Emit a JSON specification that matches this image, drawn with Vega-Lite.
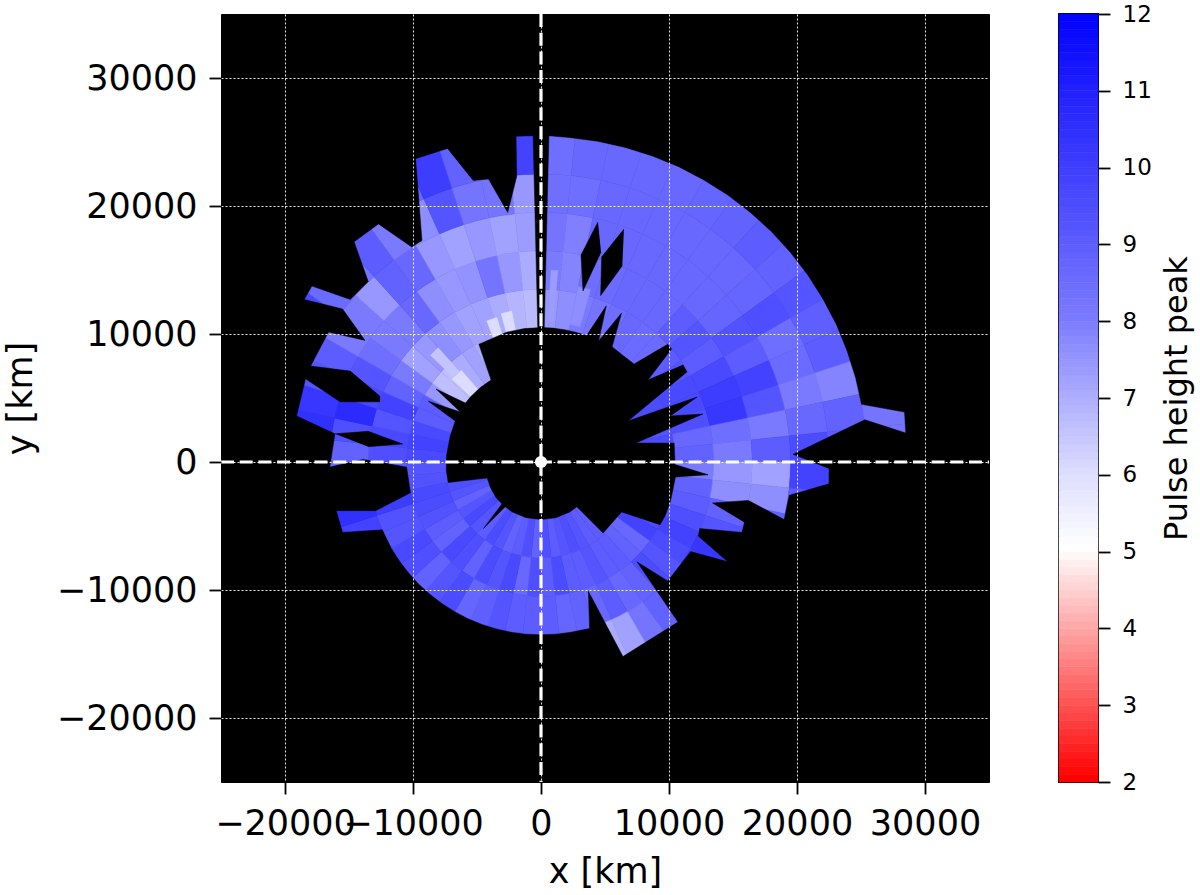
{"$schema":"https://vega.github.io/schema/vega-lite/v6.json","padding":{"left":2,"top":2,"right":2,"bottom":2},"background":"white","spacing":65,
"config":{"font":"DejaVu Sans","view":{"stroke":null}},
"datasets":{
"mask":[
{"g":1,"n":1,"x":0,"y":10500},{"g":1,"n":2,"x":910,"y":10460},{"g":1,"n":3,"x":1820,"y":10340},{"g":1,"n":4,"x":2720,"y":10140},{"g":1,"n":5,"x":3560,"y":9880},{"g":1,"n":6,"x":5100,"y":12200},{"g":1,"n":7,"x":4500,"y":9450},{"g":1,"n":8,"x":6300,"y":11650},{"g":1,"n":9,"x":5550,"y":9000},{"g":1,"n":10,"x":6430,"y":8300},{"g":1,"n":11,"x":7270,"y":7650},{"g":1,"n":12,"x":9900,"y":9200},{"g":1,"n":13,"x":10200,"y":8830},{"g":1,"n":14,"x":8350,"y":6400},{"g":1,"n":15,"x":11100,"y":7580},{"g":1,"n":16,"x":11400,"y":7030},{"g":1,"n":17,"x":6800,"y":3200},{"g":1,"n":18,"x":12200,"y":5080},{"g":1,"n":19,"x":10100,"y":3600},{"g":1,"n":20,"x":12650,"y":3750},{"g":1,"n":21,"x":7400,"y":1480},{"g":1,"n":22,"x":10400,"y":1480},{"g":1,"n":23,"x":10470,"y":0},{"g":1,"n":24,"x":10470,"y":-200},{"g":1,"n":25,"x":13050,"y":-1000},{"g":1,"n":26,"x":10500,"y":-1170},{"g":1,"n":27,"x":10300,"y":-2200},{"g":1,"n":28,"x":10100,"y":-3100},{"g":1,"n":29,"x":9700,"y":-4200},{"g":1,"n":30,"x":9300,"y":-4900},{"g":1,"n":31,"x":6300,"y":-3900},{"g":1,"n":32,"x":4850,"y":-5550},{"g":1,"n":33,"x":2800,"y":-3500},{"g":1,"n":34,"x":2250,"y":-3900},{"g":1,"n":35,"x":1160,"y":-4350},{"g":1,"n":36,"x":0,"y":-4500},{"g":1,"n":37,"x":-1160,"y":-4350},{"g":1,"n":38,"x":-2250,"y":-3900},{"g":1,"n":39,"x":-2800,"y":-3500},{"g":1,"n":40,"x":-4500,"y":-5200},{"g":1,"n":41,"x":-3050,"y":-3280},{"g":1,"n":42,"x":-3500,"y":-2800},{"g":1,"n":43,"x":-3950,"y":-2000},{"g":1,"n":44,"x":-4200,"y":-1250},{"g":1,"n":45,"x":-7250,"y":-1600},{"g":1,"n":46,"x":-7400,"y":-650},{"g":1,"n":47,"x":-7380,"y":520},{"g":1,"n":48,"x":-7100,"y":2000},{"g":1,"n":49,"x":-6700,"y":3200},{"g":1,"n":50,"x":-8800,"y":4750},{"g":1,"n":51,"x":-6300,"y":3900},{"g":1,"n":52,"x":-8200,"y":5700},{"g":1,"n":53,"x":-5900,"y":4600},{"g":1,"n":54,"x":-5500,"y":5100},{"g":1,"n":55,"x":-4700,"y":5850},{"g":1,"n":56,"x":-3900,"y":6400},{"g":1,"n":57,"x":-4850,"y":9200},{"g":1,"n":58,"x":-2650,"y":10150},{"g":1,"n":59,"x":-1300,"y":10420},{"g":1,"n":60,"x":0,"y":10500},
{"g":2,"n":1,"x":620,"y":25490},{"g":2,"n":1.5,"x":2220,"y":25350},{"g":2,"n":2,"x":4420,"y":25060},{"g":2,"n":2.5,"x":6590,"y":24580},{"g":2,"n":3,"x":8700,"y":23910},{"g":2,"n":3.5,"x":10760,"y":23070},{"g":2,"n":4,"x":12720,"y":22040},{"g":2,"n":4.5,"x":14600,"y":20850},{"g":2,"n":5,"x":16360,"y":19500},{"g":2,"n":5.5,"x":18000,"y":18000},{"g":2,"n":6,"x":19500,"y":16360},{"g":2,"n":6.5,"x":20850,"y":14600},{"g":2,"n":7,"x":22040,"y":12720},{"g":2,"n":7.5,"x":23070,"y":10760},{"g":2,"n":8,"x":23910,"y":8700},{"g":2,"n":8.5,"x":24580,"y":6590},{"g":2,"n":9,"x":25040,"y":4510},{"g":2,"n":10,"x":28400,"y":3900},{"g":2,"n":11,"x":28500,"y":2260},{"g":2,"n":12,"x":25300,"y":3300},{"g":2,"n":13,"x":19700,"y":600},{"g":2,"n":14,"x":22500,"y":-500},{"g":2,"n":15,"x":22500,"y":-1700},{"g":2,"n":16,"x":19400,"y":-2600},{"g":2,"n":17,"x":19000,"y":-4500},{"g":2,"n":18,"x":16200,"y":-3000},{"g":2,"n":19,"x":13400,"y":-3200},{"g":2,"n":20,"x":15900,"y":-4700},{"g":2,"n":21,"x":15700,"y":-5500},{"g":2,"n":22,"x":12400,"y":-5200},{"g":2,"n":23,"x":12300,"y":-5800},{"g":2,"n":24,"x":14600,"y":-7800},{"g":2,"n":25,"x":11700,"y":-7000},{"g":2,"n":26,"x":9900,"y":-9300},{"g":2,"n":27,"x":7500,"y":-7800},{"g":2,"n":28,"x":10700,"y":-12500},{"g":2,"n":29,"x":6400,"y":-15200},{"g":2,"n":30,"x":3700,"y":-10100},{"g":2,"n":31,"x":3800,"y":-13000},{"g":2,"n":31.5,"x":2340,"y":-13300},{"g":2,"n":32,"x":1180,"y":-13450},{"g":2,"n":33,"x":0,"y":-13500},{"g":2,"n":33.5,"x":-1180,"y":-13450},{"g":2,"n":34,"x":-2340,"y":-13300},{"g":2,"n":34.5,"x":-3490,"y":-13040},{"g":2,"n":35,"x":-4620,"y":-12690},{"g":2,"n":35.5,"x":-5710,"y":-12240},{"g":2,"n":36,"x":-6750,"y":-11690},{"g":2,"n":36.5,"x":-7740,"y":-11060},{"g":2,"n":37,"x":-8680,"y":-10340},{"g":2,"n":37.5,"x":-9550,"y":-9550},{"g":2,"n":38,"x":-10340,"y":-8680},{"g":2,"n":38.5,"x":-11060,"y":-7740},{"g":2,"n":39,"x":-11690,"y":-6750},{"g":2,"n":40,"x":-12400,"y":-5300},{"g":2,"n":41,"x":-15500,"y":-5500},{"g":2,"n":42,"x":-16000,"y":-3800},{"g":2,"n":43,"x":-12900,"y":-3800},{"g":2,"n":44,"x":-10200,"y":-2400},{"g":2,"n":45,"x":-10500,"y":-400},{"g":2,"n":46,"x":-13900,"y":200},{"g":2,"n":47,"x":-16500,"y":-400},{"g":2,"n":48,"x":-16100,"y":2200},{"g":2,"n":49,"x":-19100,"y":3600},{"g":2,"n":50,"x":-18400,"y":6500},{"g":2,"n":51,"x":-15700,"y":4700},{"g":2,"n":52,"x":-12600,"y":4700},{"g":2,"n":53,"x":-12600,"y":5150},{"g":2,"n":54,"x":-14900,"y":7100},{"g":2,"n":55,"x":-18000,"y":7500},{"g":2,"n":56,"x":-16600,"y":10150},{"g":2,"n":57,"x":-13750,"y":9500},{"g":2,"n":58,"x":-15500,"y":11950},{"g":2,"n":59,"x":-18500,"y":12700},{"g":2,"n":60,"x":-17900,"y":13750},{"g":2,"n":61,"x":-14900,"y":12700},{"g":2,"n":62,"x":-13500,"y":14100},{"g":2,"n":63,"x":-14600,"y":17200},{"g":2,"n":64,"x":-12700,"y":18600},{"g":2,"n":65,"x":-10100,"y":16800},{"g":2,"n":66,"x":-9300,"y":17300},{"g":2,"n":67,"x":-9800,"y":23700},{"g":2,"n":68,"x":-7300,"y":24500},{"g":2,"n":69,"x":-5300,"y":22000},{"g":2,"n":70,"x":-4100,"y":22100},{"g":2,"n":71,"x":-2600,"y":19500},{"g":2,"n":72,"x":-1900,"y":22300},{"g":2,"n":73,"x":-1950,"y":25450},{"g":2,"n":74,"x":-600,"y":25490},{"g":2,"n":75,"x":-600,"y":34900},{"g":2,"n":76,"x":-24900,"y":34900},{"g":2,"n":77,"x":-24900,"y":-24900},{"g":2,"n":78,"x":34900,"y":-24900},{"g":2,"n":79,"x":34900,"y":34900},{"g":2,"n":80,"x":620,"y":34900},{"g":2,"n":81,"x":620,"y":25490},
{"g":3,"n":1,"x":-250,"y":10400},{"g":3,"n":2,"x":-640,"y":26500},{"g":3,"n":3,"x":640,"y":26500},{"g":3,"n":4,"x":250,"y":10400},
{"g":4,"n":1,"x":-16100,"y":2200},{"g":4,"n":2,"x":-13500,"y":2400},{"g":4,"n":3,"x":-10800,"y":1400},{"g":4,"n":4,"x":-13500,"y":1200},
{"g":5,"n":1,"x":4450,"y":18750},{"g":5,"n":2,"x":3125,"y":16170},{"g":5,"n":3,"x":3280,"y":13360},{"g":5,"n":4,"x":4690,"y":16400},
{"g":6,"n":1,"x":6480,"y":18200},{"g":6,"n":2,"x":4740,"y":16020},{"g":6,"n":3,"x":4660,"y":13000},{"g":6,"n":4,"x":6350,"y":15340}
],
"tiles":[
{"t":0,"u":6,"i":10000,"o":13500,"v":7.4},{"t":0,"u":6,"i":13500,"o":16500,"v":8},{"t":0,"u":6,"i":16500,"o":19500,"v":8.2},{"t":0,"u":6,"i":19500,"o":22500,"v":8.4},{"t":0,"u":6,"i":22500,"o":25700,"v":8.4},
{"t":6,"u":12,"i":10000,"o":13500,"v":7.6},{"t":6,"u":12,"i":13500,"o":16500,"v":7.8},{"t":6,"u":12,"i":16500,"o":19500,"v":7.9},{"t":6,"u":12,"i":19500,"o":22500,"v":8.4},{"t":6,"u":12,"i":22500,"o":25700,"v":8.6},
{"t":12,"u":18,"i":10000,"o":13500,"v":8},{"t":12,"u":18,"i":13500,"o":16500,"v":8.4},{"t":12,"u":18,"i":16500,"o":19500,"v":8.6},{"t":12,"u":18,"i":19500,"o":22500,"v":8.6},{"t":12,"u":18,"i":22500,"o":25700,"v":8.6},
{"t":18,"u":24,"i":10000,"o":13500,"v":8.2},{"t":18,"u":24,"i":13500,"o":16500,"v":8.5},{"t":18,"u":24,"i":16500,"o":19500,"v":8.6},{"t":18,"u":24,"i":19500,"o":22500,"v":8.6},{"t":18,"u":24,"i":22500,"o":25700,"v":8.6},
{"t":24,"u":30,"i":10000,"o":13500,"v":8.4},{"t":24,"u":30,"i":13500,"o":16500,"v":8.6},{"t":24,"u":30,"i":16500,"o":19500,"v":8.6},{"t":24,"u":30,"i":19500,"o":22500,"v":8.6},{"t":24,"u":30,"i":22500,"o":25700,"v":8.6},
{"t":30,"u":36,"i":10000,"o":13500,"v":8.6},{"t":30,"u":36,"i":13500,"o":16500,"v":8.6},{"t":30,"u":36,"i":16500,"o":19500,"v":8.6},{"t":30,"u":36,"i":19500,"o":22500,"v":8.6},{"t":30,"u":36,"i":22500,"o":25700,"v":8.7},
{"t":36,"u":42,"i":10000,"o":13500,"v":8.5},{"t":36,"u":42,"i":13500,"o":16500,"v":8.6},{"t":36,"u":42,"i":16500,"o":19500,"v":8.6},{"t":36,"u":42,"i":19500,"o":22500,"v":8.6},{"t":36,"u":42,"i":22500,"o":25700,"v":8.8},
{"t":42,"u":48,"i":10000,"o":13500,"v":8.5},{"t":42,"u":48,"i":13500,"o":16500,"v":9},{"t":42,"u":48,"i":16500,"o":19500,"v":8.6},{"t":42,"u":48,"i":19500,"o":22500,"v":8.6},{"t":42,"u":48,"i":22500,"o":25700,"v":9},
{"t":48,"u":54,"i":10000,"o":13500,"v":9},{"t":48,"u":54,"i":13500,"o":16500,"v":9.2},{"t":48,"u":54,"i":16500,"o":19500,"v":8.7},{"t":48,"u":54,"i":19500,"o":22500,"v":8.7},{"t":48,"u":54,"i":22500,"o":25700,"v":8.8},
{"t":54,"u":60,"i":7000,"o":13500,"v":9.2},{"t":54,"u":60,"i":13500,"o":16500,"v":9},{"t":54,"u":60,"i":16500,"o":19500,"v":9.3},{"t":54,"u":60,"i":19500,"o":22500,"v":9.4},{"t":54,"u":60,"i":22500,"o":25700,"v":9.2},
{"t":60,"u":66,"i":7000,"o":10500,"v":9.5},{"t":60,"u":66,"i":10500,"o":13500,"v":9.6},{"t":60,"u":66,"i":13500,"o":16500,"v":9.6},{"t":60,"u":66,"i":16500,"o":19500,"v":9},{"t":60,"u":66,"i":19500,"o":22500,"v":8.4},{"t":60,"u":66,"i":22500,"o":25700,"v":8.9},
{"t":66,"u":72,"i":7000,"o":10500,"v":9.4},{"t":66,"u":72,"i":10500,"o":13500,"v":9.6},{"t":66,"u":72,"i":13500,"o":16500,"v":10},{"t":66,"u":72,"i":16500,"o":19500,"v":9.8},{"t":66,"u":72,"i":19500,"o":22500,"v":8.5},{"t":66,"u":72,"i":22500,"o":25700,"v":9},
{"t":72,"u":78,"i":7000,"o":10500,"v":9.2},{"t":72,"u":78,"i":10500,"o":13500,"v":9.4},{"t":72,"u":78,"i":13500,"o":16500,"v":10.2},{"t":72,"u":78,"i":16500,"o":19500,"v":9.2},{"t":72,"u":78,"i":19500,"o":22500,"v":8},{"t":72,"u":78,"i":22500,"o":25700,"v":7.8},
{"t":78,"u":84,"i":7000,"o":10500,"v":9.5},{"t":78,"u":84,"i":10500,"o":13500,"v":8.6},{"t":78,"u":84,"i":13500,"o":16500,"v":8.4},{"t":78,"u":84,"i":16500,"o":19500,"v":8},{"t":78,"u":84,"i":19500,"o":22500,"v":8.6},{"t":78,"u":84,"i":22500,"o":25700,"v":8.8},{"t":78,"u":84,"i":25500,"o":29000,"v":8.2},
{"t":84,"u":90,"i":10000,"o":13500,"v":8.8},{"t":84,"u":90,"i":13500,"o":16500,"v":8},{"t":84,"u":90,"i":16500,"o":19500,"v":9},{"t":84,"u":90,"i":19500,"o":22500,"v":9.5},{"t":84,"u":90,"i":22500,"o":25700,"v":9},{"t":84,"u":90,"i":25500,"o":29000,"v":8.2},
{"t":90,"u":96,"i":10000,"o":13500,"v":8},{"t":90,"u":96,"i":13500,"o":16500,"v":7.4},{"t":90,"u":96,"i":16500,"o":19500,"v":7.2},{"t":90,"u":96,"i":19500,"o":22800,"v":9.8},
{"t":96,"u":102,"i":10000,"o":13500,"v":8.8},{"t":96,"u":102,"i":13500,"o":16500,"v":7.6},{"t":96,"u":102,"i":16500,"o":19500,"v":7.6},{"t":96,"u":102,"i":19500,"o":22500,"v":9},
{"t":102,"u":108,"i":10000,"o":13500,"v":9},{"t":102,"u":108,"i":13500,"o":16500,"v":8.8},{"t":102,"u":108,"i":16500,"o":19800,"v":8.8},
{"t":108,"u":114,"i":10000,"o":13500,"v":9.4},{"t":108,"u":114,"i":13500,"o":16900,"v":9.2},
{"t":114,"u":120,"i":7000,"o":10500,"v":9.5},{"t":114,"u":120,"i":10500,"o":13500,"v":9.8},{"t":114,"u":120,"i":13500,"o":16900,"v":10.2},
{"t":120,"u":126,"i":7000,"o":10500,"v":9.8},{"t":120,"u":126,"i":10500,"o":13500,"v":9.5},{"t":120,"u":126,"i":13500,"o":16500,"v":10},
{"t":126,"u":132,"i":7000,"o":10500,"v":8.6},{"t":126,"u":132,"i":10500,"o":13800,"v":9.2},
{"t":132,"u":138,"i":7000,"o":10500,"v":8.8},{"t":132,"u":138,"i":10500,"o":13800,"v":9.5},
{"t":138,"u":144,"i":4300,"o":7500,"v":9},{"t":138,"u":144,"i":7500,"o":10500,"v":9},{"t":138,"u":144,"i":10500,"o":13500,"v":8.8},{"t":138,"u":144,"i":13500,"o":16700,"v":8.8},
{"t":144,"u":150,"i":4300,"o":7500,"v":9},{"t":144,"u":150,"i":7500,"o":10500,"v":9},{"t":144,"u":150,"i":10500,"o":13500,"v":8.6},{"t":144,"u":150,"i":13500,"o":16700,"v":8.2},
{"t":150,"u":156,"i":4300,"o":7500,"v":9.2},{"t":150,"u":156,"i":7500,"o":10500,"v":9.2},{"t":150,"u":156,"i":10500,"o":13500,"v":9},{"t":150,"u":156,"i":13500,"o":16700,"v":7.2},
{"t":156,"u":162,"i":4300,"o":7500,"v":9.4},{"t":156,"u":162,"i":7500,"o":10500,"v":9},{"t":156,"u":162,"i":10500,"o":13500,"v":8.6},{"t":156,"u":162,"i":13500,"o":16700,"v":7},
{"t":162,"u":168,"i":4300,"o":7500,"v":9.2},{"t":162,"u":168,"i":7500,"o":10500,"v":9},{"t":162,"u":168,"i":10500,"o":13800,"v":8.8},
{"t":168,"u":174,"i":4300,"o":7500,"v":9},{"t":168,"u":174,"i":7500,"o":10500,"v":9.5},{"t":168,"u":174,"i":10500,"o":13800,"v":8.7},
{"t":174,"u":180,"i":4300,"o":7500,"v":9.4},{"t":174,"u":180,"i":7500,"o":10500,"v":9},{"t":174,"u":180,"i":10500,"o":13800,"v":9},
{"t":180,"u":186,"i":4300,"o":7500,"v":8.8},{"t":180,"u":186,"i":7500,"o":10500,"v":9.4},{"t":180,"u":186,"i":10500,"o":13800,"v":9},
{"t":186,"u":192,"i":4300,"o":7500,"v":9.4},{"t":186,"u":192,"i":7500,"o":10500,"v":8.6},{"t":186,"u":192,"i":10500,"o":13800,"v":9},
{"t":192,"u":198,"i":4300,"o":7500,"v":9},{"t":192,"u":198,"i":7500,"o":10500,"v":9.6},{"t":192,"u":198,"i":10500,"o":13800,"v":9.2},
{"t":198,"u":204,"i":4300,"o":7500,"v":8.8},{"t":198,"u":204,"i":7500,"o":10500,"v":9.2},{"t":198,"u":204,"i":10500,"o":13800,"v":8.9},
{"t":204,"u":210,"i":4300,"o":7500,"v":9.2},{"t":204,"u":210,"i":7500,"o":10500,"v":9.5},{"t":204,"u":210,"i":10500,"o":13800,"v":8.7},
{"t":210,"u":216,"i":4300,"o":7500,"v":9.5},{"t":210,"u":216,"i":7500,"o":10500,"v":8.8},{"t":210,"u":216,"i":10500,"o":13800,"v":9.5},
{"t":216,"u":222,"i":4300,"o":7500,"v":9},{"t":216,"u":222,"i":7500,"o":10500,"v":9.4},{"t":216,"u":222,"i":10500,"o":13800,"v":9.2},
{"t":222,"u":228,"i":4300,"o":7500,"v":9.2},{"t":222,"u":228,"i":7500,"o":10500,"v":9.6},{"t":222,"u":228,"i":10500,"o":13800,"v":8.8},
{"t":228,"u":234,"i":4300,"o":7500,"v":9.6},{"t":228,"u":234,"i":7500,"o":10500,"v":8.8},{"t":228,"u":234,"i":10500,"o":13800,"v":9.4},
{"t":234,"u":240,"i":4300,"o":7500,"v":9.2},{"t":234,"u":240,"i":7500,"o":10500,"v":9},{"t":234,"u":240,"i":10500,"o":13800,"v":9.6},
{"t":240,"u":246,"i":4300,"o":7500,"v":8.8},{"t":240,"u":246,"i":7500,"o":10500,"v":9.3},{"t":240,"u":246,"i":10500,"o":13800,"v":9.2},
{"t":246,"u":252,"i":4300,"o":7500,"v":9.2},{"t":246,"u":252,"i":7500,"o":10500,"v":9.5},{"t":246,"u":252,"i":10500,"o":13500,"v":9.3},{"t":246,"u":252,"i":13500,"o":16800,"v":9.8},
{"t":252,"u":258,"i":4300,"o":7500,"v":9.4},{"t":252,"u":258,"i":7500,"o":10500,"v":9.6},{"t":252,"u":258,"i":10500,"o":13500,"v":10},{"t":252,"u":258,"i":13500,"o":16800,"v":10.4},
{"t":258,"u":264,"i":7000,"o":10800,"v":9.3},
{"t":264,"u":270,"i":7000,"o":10500,"v":9.2},{"t":264,"u":270,"i":10500,"o":13500,"v":9},{"t":264,"u":270,"i":13500,"o":16700,"v":8.6},
{"t":270,"u":276,"i":7000,"o":10500,"v":9.6},{"t":270,"u":276,"i":10500,"o":13500,"v":9.4},{"t":270,"u":276,"i":13500,"o":16700,"v":8.8},
{"t":276,"u":282,"i":7000,"o":10500,"v":9.8},{"t":276,"u":282,"i":10500,"o":13500,"v":9.6},{"t":276,"u":282,"i":13500,"o":16500,"v":9.4},{"t":276,"u":282,"i":16500,"o":19800,"v":10.4},
{"t":282,"u":288,"i":7000,"o":10500,"v":9.6},{"t":282,"u":288,"i":10500,"o":13500,"v":9.2},{"t":282,"u":288,"i":13500,"o":16500,"v":10.6},{"t":282,"u":288,"i":16500,"o":19800,"v":10.2},
{"t":288,"u":294,"i":7000,"o":10500,"v":9},{"t":288,"u":294,"i":10500,"o":13500,"v":9.8},{"t":288,"u":294,"i":13500,"o":16500,"v":9.6},{"t":288,"u":294,"i":16500,"o":19800,"v":9.2},
{"t":294,"u":300,"i":7000,"o":10500,"v":9},{"t":294,"u":300,"i":10500,"o":13500,"v":8.8},{"t":294,"u":300,"i":13500,"o":16500,"v":9.2},{"t":294,"u":300,"i":16500,"o":19800,"v":9},
{"t":300,"u":306,"i":7000,"o":10500,"v":7.4},{"t":300,"u":306,"i":10500,"o":13500,"v":8},{"t":300,"u":306,"i":13500,"o":16500,"v":8.4},{"t":300,"u":306,"i":16500,"o":19500,"v":8},{"t":300,"u":306,"i":19500,"o":22800,"v":9.6},
{"t":306,"u":312,"i":7000,"o":10500,"v":6.6},{"t":306,"u":312,"i":10500,"o":13500,"v":7.2},{"t":306,"u":312,"i":13500,"o":16500,"v":8},{"t":306,"u":312,"i":16500,"o":19500,"v":8},{"t":306,"u":312,"i":19500,"o":22800,"v":8.5},
{"t":312,"u":318,"i":7000,"o":10500,"v":6.6},{"t":312,"u":318,"i":10500,"o":13500,"v":7.4},{"t":312,"u":318,"i":13500,"o":16500,"v":8},{"t":312,"u":318,"i":16500,"o":19500,"v":7.4},{"t":312,"u":318,"i":19500,"o":22800,"v":8.2},
{"t":318,"u":324,"i":7000,"o":10500,"v":7},{"t":318,"u":324,"i":10500,"o":13500,"v":7.6},{"t":318,"u":324,"i":13500,"o":16500,"v":8.6},{"t":318,"u":324,"i":16500,"o":19500,"v":8.8},{"t":318,"u":324,"i":19500,"o":22800,"v":9},
{"t":324,"u":330,"i":7000,"o":10500,"v":7.2},{"t":324,"u":330,"i":10500,"o":13500,"v":7.4},{"t":324,"u":330,"i":13500,"o":16500,"v":7.6},{"t":324,"u":330,"i":16500,"o":19500,"v":8.6},{"t":324,"u":330,"i":19500,"o":22800,"v":8},
{"t":330,"u":336,"i":7000,"o":10500,"v":7},{"t":330,"u":336,"i":10500,"o":13500,"v":7.2},{"t":330,"u":336,"i":13500,"o":16500,"v":7.4},{"t":330,"u":336,"i":16500,"o":19500,"v":7.4},{"t":330,"u":336,"i":19500,"o":22500,"v":7.6},{"t":330,"u":336,"i":22500,"o":25800,"v":8.6},
{"t":336,"u":342,"i":10000,"o":13500,"v":7.2},{"t":336,"u":342,"i":13500,"o":16500,"v":7.5},{"t":336,"u":342,"i":16500,"o":19500,"v":7.2},{"t":336,"u":342,"i":19500,"o":22500,"v":9.2},{"t":336,"u":342,"i":22500,"o":25800,"v":10},
{"t":342,"u":348,"i":10000,"o":13500,"v":7},{"t":342,"u":348,"i":13500,"o":16500,"v":8.2},{"t":342,"u":348,"i":16500,"o":19500,"v":7.4},{"t":342,"u":348,"i":19500,"o":22500,"v":8.2},{"t":342,"u":348,"i":22500,"o":25800,"v":8.8},
{"t":348,"u":354,"i":10000,"o":13500,"v":6.8},{"t":348,"u":354,"i":13500,"o":16500,"v":7.4},{"t":348,"u":354,"i":16500,"o":19500,"v":7.2},{"t":348,"u":354,"i":19500,"o":22800,"v":8.2},
{"t":354,"u":360,"i":10000,"o":13500,"v":6.7},{"t":354,"u":360,"i":13500,"o":16500,"v":7},{"t":354,"u":360,"i":16500,"o":19500,"v":7.3},{"t":354,"u":360,"i":19500,"o":22500,"v":7.4},{"t":354,"u":360,"i":22500,"o":25800,"v":9.8},
{"t":313,"u":319,"i":7000,"o":9500,"v":6},{"t":314,"u":318,"i":9500,"o":12000,"v":6.5},{"t":339,"u":343,"i":10000,"o":11800,"v":6},{"t":345,"u":349,"i":10000,"o":12000,"v":6},{"t":3,"u":5,"i":11000,"o":15000,"v":7.3},{"t":12,"u":16,"i":11000,"o":14000,"v":7.6}
],
"bar":[{"l":2.0,"h":2.1},{"l":2.1,"h":2.2},{"l":2.2,"h":2.3},{"l":2.3,"h":2.4},{"l":2.4,"h":2.5},{"l":2.5,"h":2.6},{"l":2.6,"h":2.7},{"l":2.7,"h":2.8},{"l":2.8,"h":2.9},{"l":2.9,"h":3.0},{"l":3.0,"h":3.1},{"l":3.1,"h":3.2},{"l":3.2,"h":3.3},{"l":3.3,"h":3.4},{"l":3.4,"h":3.5},{"l":3.5,"h":3.6},{"l":3.6,"h":3.7},{"l":3.7,"h":3.8},{"l":3.8,"h":3.9},{"l":3.9,"h":4.0},{"l":4.0,"h":4.1},{"l":4.1,"h":4.2},{"l":4.2,"h":4.3},{"l":4.3,"h":4.4},{"l":4.4,"h":4.5},{"l":4.5,"h":4.6},{"l":4.6,"h":4.7},{"l":4.7,"h":4.8},{"l":4.8,"h":4.9},{"l":4.9,"h":5.0},{"l":5.0,"h":5.1},{"l":5.1,"h":5.2},{"l":5.2,"h":5.3},{"l":5.3,"h":5.4},{"l":5.4,"h":5.5},{"l":5.5,"h":5.6},{"l":5.6,"h":5.7},{"l":5.7,"h":5.8},{"l":5.8,"h":5.9},{"l":5.9,"h":6.0},{"l":6.0,"h":6.1},{"l":6.1,"h":6.2},{"l":6.2,"h":6.3},{"l":6.3,"h":6.4},{"l":6.4,"h":6.5},{"l":6.5,"h":6.6},{"l":6.6,"h":6.7},{"l":6.7,"h":6.8},{"l":6.8,"h":6.9},{"l":6.9,"h":7.0},{"l":7.0,"h":7.1},{"l":7.1,"h":7.2},{"l":7.2,"h":7.3},{"l":7.3,"h":7.4},{"l":7.4,"h":7.5},{"l":7.5,"h":7.6},{"l":7.6,"h":7.7},{"l":7.7,"h":7.8},{"l":7.8,"h":7.9},{"l":7.9,"h":8.0},{"l":8.0,"h":8.1},{"l":8.1,"h":8.2},{"l":8.2,"h":8.3},{"l":8.3,"h":8.4},{"l":8.4,"h":8.5},{"l":8.5,"h":8.6},{"l":8.6,"h":8.7},{"l":8.7,"h":8.8},{"l":8.8,"h":8.9},{"l":8.9,"h":9.0},{"l":9.0,"h":9.1},{"l":9.1,"h":9.2},{"l":9.2,"h":9.3},{"l":9.3,"h":9.4},{"l":9.4,"h":9.5},{"l":9.5,"h":9.6},{"l":9.6,"h":9.7},{"l":9.7,"h":9.8},{"l":9.8,"h":9.9},{"l":9.9,"h":10.0},{"l":10.0,"h":10.1},{"l":10.1,"h":10.2},{"l":10.2,"h":10.3},{"l":10.3,"h":10.4},{"l":10.4,"h":10.5},{"l":10.5,"h":10.6},{"l":10.6,"h":10.7},{"l":10.7,"h":10.8},{"l":10.8,"h":10.9},{"l":10.9,"h":11.0},{"l":11.0,"h":11.1},{"l":11.1,"h":11.2},{"l":11.2,"h":11.3},{"l":11.3,"h":11.4},{"l":11.4,"h":11.5},{"l":11.5,"h":11.6},{"l":11.6,"h":11.7},{"l":11.7,"h":11.8},{"l":11.8,"h":11.9},{"l":11.9,"h":12.0}]
},
"hconcat":[
{"width":768,"height":768,"view":{"fill":"black","stroke":"black"},
"layer":[
{"data":{"name":"tiles"},
"mark":{"type":"arc","clip":true,"strokeWidth":0.6},
"encoding":{
"x":{"datum":0,"type":"quantitative","scale":{"domain":[-25000,35000],"nice":false},"axis":{"title":"x [km]","values":[-20000,-10000,0,10000,20000,30000],"format":"d","grid":true,"gridColor":"white","gridDash":[2,2],"gridWidth":1,"gridOpacity":0.9,"tickSize":12,"tickWidth":1.8,"tickColor":"black","domain":false,"labelFontSize":35,"titleFontSize":35,"labelColor":"black","titleColor":"black","titleFontWeight":"normal","labelOverlap":false,"labelFlush":false,"labelPadding":12,"titlePadding":13,"zindex":1}},
"y":{"datum":0,"type":"quantitative","scale":{"domain":[-25000,35000],"nice":false},"axis":{"title":"y [km]","values":[-20000,-10000,0,10000,20000,30000],"format":"d","grid":true,"gridColor":"white","gridDash":[2,2],"gridWidth":1,"gridOpacity":0.9,"tickSize":12,"tickWidth":1.8,"tickColor":"black","domain":false,"labelFontSize":35,"titleFontSize":35,"labelColor":"black","titleColor":"black","titleFontWeight":"normal","labelOverlap":false,"labelPadding":12,"titlePadding":18,"zindex":1}},
"theta":{"field":"t","type":"quantitative","stack":null,"scale":{"domain":[0,360],"range":[0,6.283185]}},"theta2":{"field":"u"},
"radius":{"field":"i","type":"quantitative","scale":{"type":"linear","domain":[0,30000],"range":[0,384]}},"radius2":{"field":"o"},
"fill":{"field":"v","type":"quantitative","legend":null,"scale":{"domain":[2,5,6,8,12],"range":["#ff0000","#ffffff","#dcdcff","#7a7aff","#0000ff"],"interpolate":"rgb"}},
"stroke":{"field":"v","type":"quantitative","legend":null,"scale":{"domain":[2,5,6,8,12],"range":["#ff0000","#ffffff","#dcdcff","#7a7aff","#0000ff"],"interpolate":"rgb"}}}},
{"data":{"name":"mask"},
"mark":{"type":"line","clip":true,"fill":"black","stroke":"black","strokeWidth":0.5,"strokeJoin":"round"},
"encoding":{
"x":{"field":"x","type":"quantitative"},"y":{"field":"y","type":"quantitative"},"detail":{"field":"g"},"order":{"field":"n"}}},
{"data":{"values":[{"c":0}]},"mark":{"type":"rule","color":"white","strokeWidth":3.2,"strokeDash":[13,5.7]},"encoding":{"x":{"field":"c","type":"quantitative"},"y":{"value":0},"y2":{"value":768}}},
{"data":{"values":[{"c":0}]},"mark":{"type":"rule","color":"white","strokeWidth":3.2,"strokeDash":[13,5.7]},"encoding":{"y":{"field":"c","type":"quantitative"},"x":{"value":0},"x2":{"value":768}}},
{"data":{"values":[{"c":0}]},"mark":{"type":"point","filled":true,"color":"white","opacity":1,"size":150},"encoding":{"x":{"field":"c","type":"quantitative"},"y":{"field":"c","type":"quantitative"}}}
]},
{"width":39,"height":768,"data":{"name":"bar"},"view":{"stroke":"black","strokeWidth":2},
"mark":{"type":"rect","strokeWidth":0.6},
"encoding":{
"x":{"value":0},"x2":{"value":39},
"y":{"field":"l","type":"quantitative","scale":{"domain":[2,12],"nice":false},"axis":{"orient":"right","title":"Pulse height peak","titleAngle":270,"values":[2,3,4,5,6,7,8,9,10,11,12],"grid":false,"domain":false,"tickSize":12,"tickWidth":1.8,"tickColor":"black","labelFontSize":23,"titleFontSize":32,"titleFontWeight":"normal","labelColor":"black","titleColor":"black","labelPadding":12,"titlePadding":42}},
"y2":{"field":"h"},
"fill":{"field":"l","type":"quantitative","legend":null,"scale":{"domain":[2,5,6,8,12],"range":["#ff0000","#ffffff","#dcdcff","#7a7aff","#0000ff"],"interpolate":"rgb"}},
"stroke":{"field":"l","type":"quantitative","legend":null,"scale":{"domain":[2,5,6,8,12],"range":["#ff0000","#ffffff","#dcdcff","#7a7aff","#0000ff"],"interpolate":"rgb"}}}}
]}
